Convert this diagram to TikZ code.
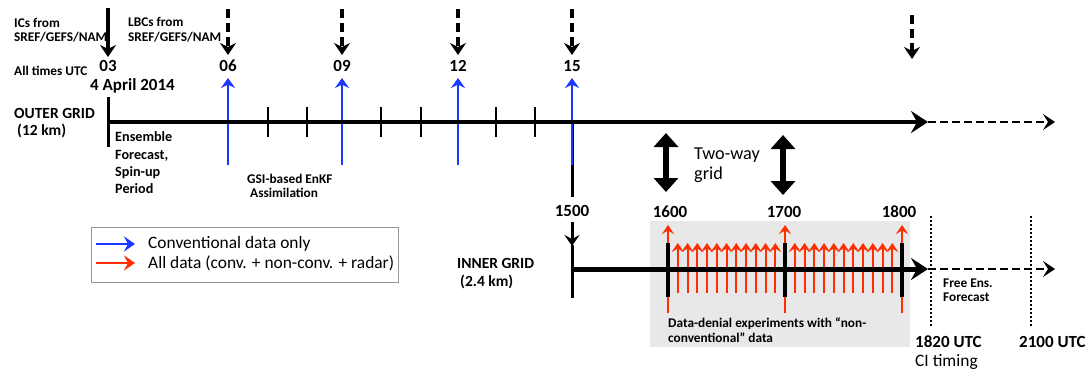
\documentclass[tikz,border=0pt]{standalone}
\usepackage{fontspec}
\setmainfont{Carlito}
\usetikzlibrary{arrows.meta}
\definecolor{bluC}{RGB}{25,55,255}
\definecolor{redC}{RGB}{255,45,0}
\definecolor{boxC}{RGB}{232,232,232}
\definecolor{legC}{RGB}{150,150,150}
\begin{document}
\begin{tikzpicture}[x=1pt,y=-1pt,
  sm/.style={anchor=west,inner sep=0pt,align=left,font=\fontsize{13.3}{14.5}\selectfont\bfseries},
  med/.style={anchor=west,inner sep=0pt,align=left,font=\fontsize{14.2}{17.3}\selectfont\bfseries},
  gridlbl/.style={anchor=west,inner sep=0pt,font=\fontsize{15.5}{18}\selectfont\bfseries},
  bigb/.style={inner sep=0pt,font=\fontsize{17}{20}\selectfont\bfseries},
  reg/.style={anchor=west,inner sep=0pt,align=left,font=\fontsize{17.4}{20}\selectfont},
  axisline/.style={line width=4.5pt,-{Stealth[length=17pt,width=22pt,inset=6pt]}},
  dashext/.style={line width=2.5pt,dash pattern=on 8pt off 4pt,-{Stealth[length=12pt,width=16pt,inset=5pt]}},
  tickmark/.style={line width=2.5pt},
  startmark/.style={line width=3pt},
  toparrow/.style={line width=3.5pt,-{Stealth[length=12pt,width=16pt,inset=4pt]}},
  topdash/.style={toparrow,dash pattern=on 9pt off 5pt},
  bluearrow/.style={draw=bluC,fill=bluC,line width=2.5pt,-{Stealth[length=10pt,width=14pt,inset=3.5pt]}},
  redbig/.style={draw=redC,fill=redC,line width=2pt,-{Stealth[length=9pt,width=12pt,inset=3.5pt]}},
  redsmall/.style={draw=redC,fill=redC,line width=2pt,-{Stealth[length=9pt,width=12pt,inset=3.5pt]}},
  innertick/.style={line width=3.5pt},
  twoway/.style={line width=6pt,{Triangle[length=14pt,width=24pt]}-{Triangle[length=14pt,width=24pt]}},
  dotv/.style={line width=2pt,dotted},
  legarrow/.style={line width=2.5pt,-{Stealth[length=11pt,width=15pt,inset=4pt]}}
]
\useasboundingbox (0,0) rectangle (1091,373);

% ---------- coordinates ----------
\coordinate (o0) at (108,122);
\coordinate (oend) at (928,122);
\coordinate (oext) at (1055,122);
\coordinate (i0) at (572,269);
\coordinate (iend) at (928,269);
\coordinate (iext) at (1055,269);

% ---------- top texts ----------
\node[sm] (ics) at (14,30) {ICs from\\SREF/GEFS/NAM};
\node[sm] (lbcs) at (128,29.5) {LBCs from\\SREF/GEFS/NAM};
\node[sm] (allt) at (14,71) {All times UTC};
\node[bigb] (t03) at (108,66) {03};
\node[bigb] (t06) at (228,66) {06};
\node[bigb] (t09) at (342,66) {09};
\node[bigb] (t12) at (458,66) {12};
\node[bigb] (t15) at (572,66) {15};
\node[bigb,anchor=west] (date) at (90,86) {4 April 2014};

% top arrows
\coordinate (a03s) at (108,8);  \coordinate (a03e) at (108,57);
\draw[toparrow] (a03s) -- (a03e);
\foreach \xx/\nm in {228/a06,342/a09,458/a12,572/a15}{
  \coordinate (\nm s) at (\xx,9);
  \coordinate (\nm e) at (\xx,55);
  \draw[topdash] (\nm s) -- (\nm e);
}
\coordinate (a18s) at (912,15); \coordinate (a18e) at (912,59);
\draw[topdash] (a18s) -- (a18e);

% ---------- outer grid ----------
\node[gridlbl] (outer1) at (14,113) {OUTER GRID};
\node[gridlbl] (outer2) at (17,131) {(12 km)};

% blue arrows (beneath black line)
\draw[startmark] (572,122) coordinate (v15top) -- (572,197) coordinate (v15bot);
\foreach \xx/\nm in {228/b06,342/b09,458/b12,572/b15}{
  \coordinate (\nm s) at (\xx,165);
  \coordinate (\nm e) at (\xx,78);
  \draw[bluearrow] (\nm s) -- (\nm e);
}
\draw[axisline] (o0) -- (oend);
\draw[dashext] (oend) -- (oext);
\draw[startmark] (108,97) coordinate (st0) -- (108,147) coordinate (st1);
\foreach \xx in {268,307,381,421,496,535}{
  \draw[tickmark] (\xx,107) -- (\xx,137);
}

\node[med] (ens) at (115,163) {Ensemble\\Forecast,\\Spin-up\\Period};
\node[sm] (gsi1) at (247,179) {GSI-based EnKF};
\node[sm] (gsi2) at (250,193) {Assimilation};

% two-way
\coordinate (tw1a) at (666,133); \coordinate (tw1b) at (666,192);
\coordinate (tw2a) at (783,135); \coordinate (tw2b) at (783,195);
\draw[twoway] (tw1a) -- (tw1b);
\draw[twoway] (tw2a) -- (tw2b);
\node[reg,font=\fontsize{18.2}{20}\selectfont] (twolbl) at (694,165) {Two-way\\grid};

% ---------- legend ----------
\node[draw=legC,line width=1pt,fill=white,minimum width=307pt,minimum height=55pt,anchor=north west,inner sep=0pt] (legend) at (91,227) {};
\coordinate (lb0) at (96,244); \coordinate (lb1) at (135,244);
\coordinate (lr0) at (96,263); \coordinate (lr1) at (135,263);
\draw[legarrow,draw=bluC,fill=bluC] (lb0) -- (lb1);
\draw[legarrow,draw=redC,fill=redC] (lr0) -- (lr1);
\node[reg] (legt1) at (148,244) {Conventional data only};
\node[reg] (legt2) at (148,263) {All data (conv. + non-conv. + radar)};

% ---------- inner grid ----------
\fill[boxC] (650,221) rectangle (910,347);
\node[gridlbl] (inner1) at (457,263) {INNER GRID};
\node[gridlbl] (inner2) at (460,282) {(2.4 km)};
\node[bigb] (t1500) at (572,211) {1500};
\node[bigb] (t1600) at (670,212) {1600};
\node[bigb] (t1700) at (784,212) {1700};
\node[bigb] (t1800) at (899,212) {1800};
\coordinate (d15s) at (572,222); \coordinate (d15e) at (572,246);
\draw[line width=3pt,-{Stealth[length=11pt,width=15pt,inset=4pt]}] (d15s) -- (d15e);
\draw[startmark] (572,245) -- (572,298);

% red arrows
\foreach \xx in {668,785,902}{
  \draw[redbig] (\xx,313) -- (\xx,225);
}
\foreach \k in {1,...,11}{
  \pgfmathsetmacro\xa{668+\k*117/12}
  \pgfmathsetmacro\xb{785+\k*117/12}
  \draw[redsmall] (\xa,293) -- (\xa,243);
  \draw[redsmall] (\xb,293) -- (\xb,243);
}
\draw[axisline,line width=5pt] (i0) -- (iend);
\draw[dashext] (iend) -- (iext);
\foreach \xx in {668,785,902}{
  \draw[innertick] (\xx,243) -- (\xx,297);
}

% dotted verticals
\draw[dotv] (931,216) coordinate (dv1a) -- (931,327) coordinate (dv1b);
\draw[dotv] (1031,216) coordinate (dv2a) -- (1031,327) coordinate (dv2b);

\node[sm] (free) at (943,290) {Free Ens.\\Forecast};
\node[sm] (denial) at (668,330) {Data-denial experiments with “non-\\conventional” data};
\node[bigb,anchor=west] (t1820) at (915,342) {1820 UTC};
\node[bigb,anchor=west] (t2100) at (1019,342) {2100 UTC};
\node[reg] (ci) at (915,362) {CI timing};
\end{tikzpicture}
\end{document}
